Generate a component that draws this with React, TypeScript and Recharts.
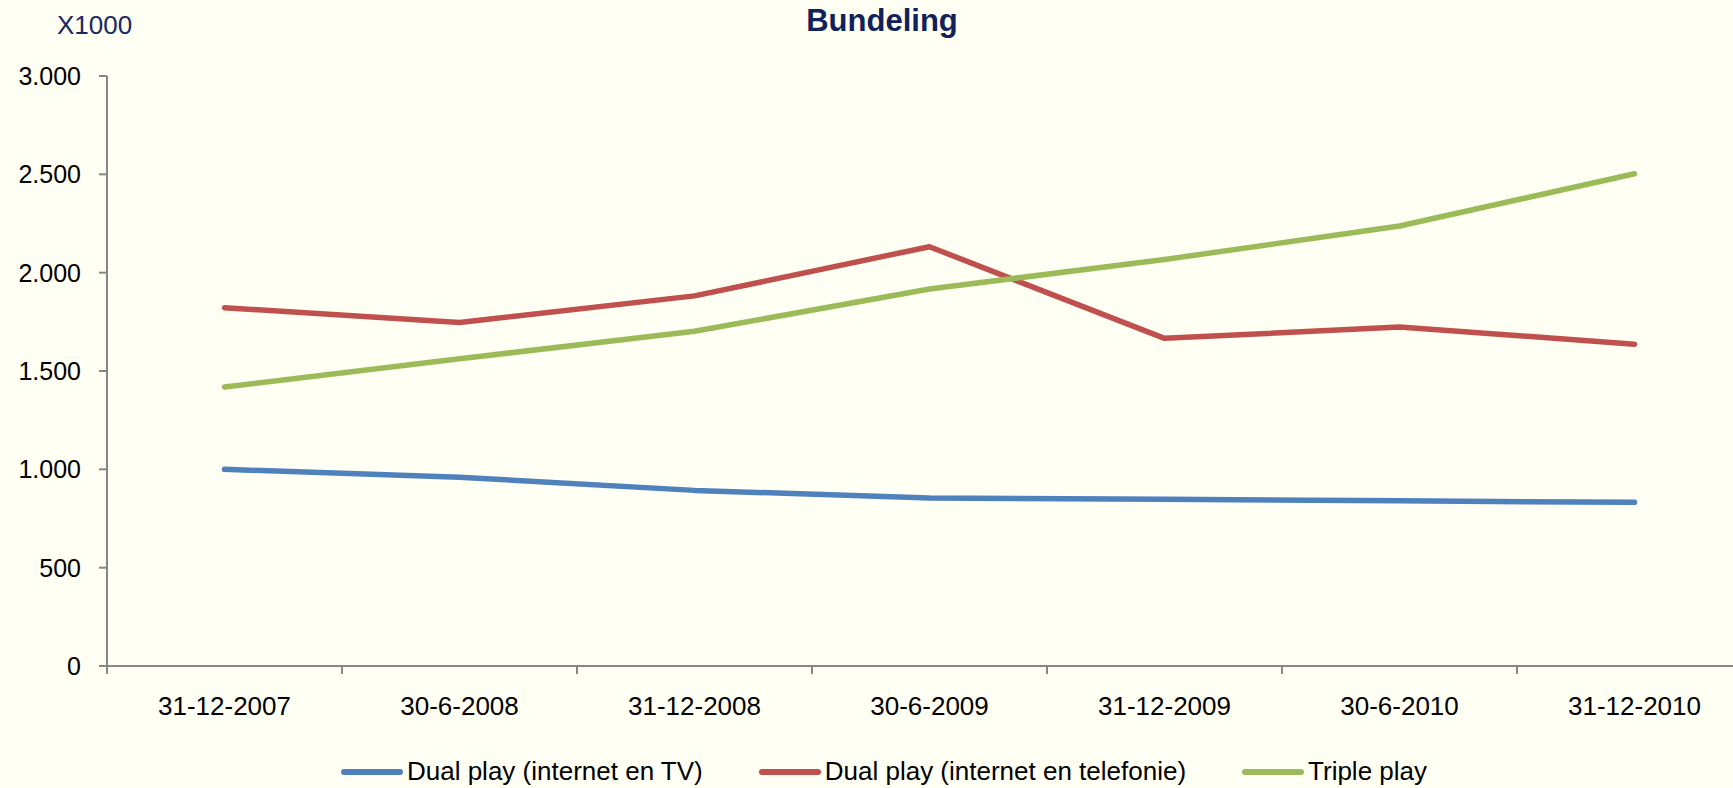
import React from 'react';
import { LineChart, Line, XAxis, YAxis, Legend } from 'recharts';

const categories = ['31-12-2007', '30-6-2008', '31-12-2008', '30-6-2009', '31-12-2009', '30-6-2010', '31-12-2010'];
const dualTv = [1000, 960, 893, 854, 848, 840, 832];
const dualTel = [1822, 1747, 1882, 2132, 1666, 1724, 1636];
const triple = [1419, 1562, 1702, 1917, 2067, 2237, 2503];
const yTicks = [0, 500, 1000, 1500, 2000, 2500, 3000];

const series = [
  { key: 'dualTv', name: 'Dual play (internet en TV)', color: '#4F81BD' },
  { key: 'dualTel', name: 'Dual play (internet en telefonie)', color: '#C0504D' },
  { key: 'triple', name: 'Triple play', color: '#9BBB59' },
];

const data = categories.map((c, i) => ({ name: c, dualTv: dualTv[i], dualTel: dualTel[i], triple: triple[i] }));

const FONT = '"Liberation Sans", Arial, sans-serif';
const AXIS = '#868686';

const fmt = (v: number) => String(v).replace(/\B(?=(\d{3})+(?!\d))/g, '.');

const XTick = (props: any) => {
  const { x, y, payload } = props;
  const off = payload.offset ?? 0;
  return (
    <g>
      <line x1={x - off} y1={y} x2={x - off} y2={y + 8} stroke={AXIS} strokeWidth={2} />
      <text x={x} y={y + 49} textAnchor="middle" fontSize={26} fontFamily={FONT} fill="#000">
        {payload.value}
      </text>
    </g>
  );
};

const LegendContent = () => (
  <div style={{ display: 'flex', justifyContent: 'center', alignItems: 'center', gap: 56, fontFamily: FONT, fontSize: 26, color: '#000' }}>
    {series.map((s) => (
      <div key={s.key} style={{ display: 'flex', alignItems: 'center' }}>
        <svg width={62} height={10} style={{ marginRight: 4 }}>
          <line x1={3} y1={5} x2={59} y2={5} stroke={s.color} strokeWidth={6} strokeLinecap="round" />
        </svg>
        <span>{s.name}</span>
      </div>
    ))}
  </div>
);

export default function App() {
  return (
    <div style={{ position: 'absolute', left: 0, top: 0, width: 1733, height: 788, overflow: 'hidden', background: '#FFFFF3' }}>
      <div style={{ position: 'absolute', left: 57, top: 10, fontFamily: FONT, fontSize: 26, color: '#1A2766' }}>X1000</div>
      <div style={{ position: 'absolute', left: 0, width: 1764, top: 3, textAlign: 'center', fontFamily: FONT, fontSize: 31, fontWeight: 'bold', color: '#10215B' }}>
        Bundeling
      </div>
      <LineChart width={1760} height={788} data={data} margin={{ top: 76, right: 8, left: 0, bottom: 0 }}>
        <XAxis
          dataKey="name"
          scale="band"
          height={122}
          tickSize={0}
          tickMargin={0}
          tickLine={false}
          axisLine={{ stroke: AXIS, strokeWidth: 2 }}
          tick={<XTick />}
          interval={0}
        />
        <YAxis
          width={107}
          domain={[0, 3000]}
          ticks={yTicks}
          tickFormatter={fmt}
          tickSize={8}
          tickMargin={18}
          axisLine={{ stroke: AXIS, strokeWidth: 2 }}
          tickLine={{ stroke: AXIS, strokeWidth: 2 }}
          tick={{ fontSize: 25, fontFamily: FONT, fill: '#000' }}
        />
        <Legend
          layout="horizontal"
          verticalAlign="middle"
          align="center"
          content={<LegendContent />}
          wrapperStyle={{ top: 756, left: 0, width: 1768 }}
        />
        {series.map((s) => (
          <Line
            key={s.key}
            dataKey={s.key}
            name={s.name}
            stroke={s.color}
            strokeWidth={5.5}
            strokeLinecap="round"
            strokeLinejoin="round"
            dot={false}
            activeDot={false}
            isAnimationActive={false}
          />
        ))}
      </LineChart>
    </div>
  );
}
